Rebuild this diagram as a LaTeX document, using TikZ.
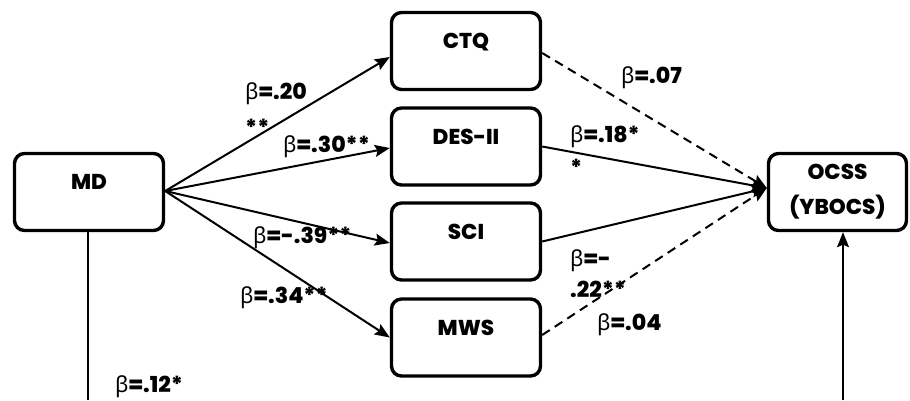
\documentclass[tikz,border=0pt]{standalone}
\usepackage{fontspec}
\setmainfont{Poppins}[BoldFont={* ExtraBold}]
\newfontfamily\grk{Noto Sans}
\usetikzlibrary{arrows.meta}
\newcommand{\bt}{{\grk\mdseries β}}
\begin{document}
\begin{tikzpicture}[x=1pt,y=-1pt,
  box/.style={draw,line width=3.4pt,rounded corners=10pt,minimum width=149pt,minimum height=77pt,inner sep=0pt,font=\fontsize{21.5}{35}\selectfont\bfseries},
  sbox/.style={box,text height=15pt,text depth=20pt},
  tip/.style={-{Stealth[length=15pt,width=12pt,inset=2.5pt]}},
  conn/.style={line width=2pt,tip},
  dsh/.style={conn,dash pattern=on 9pt off 6pt},
  lab/.style={anchor=base west,inner sep=0pt,font=\fontsize{22}{36}\selectfont\bfseries,align=left},
]
\useasboundingbox (0,0) rectangle (910,400);
\node[sbox] (md) at (89,192) {MD};
\node[sbox] (ctq) at (466,51) {CTQ};
\node[sbox] (des) at (466,146.5) {DES-II};
\node[sbox] (sci) at (466,241.5) {SCI};
\node[sbox] (mws) at (466,337.5) {MWS};
\node[box,minimum width=138pt,align=center] (ocss) at (837.5,192) {OCSS\\(YBOCS)};
\coordinate (mdend) at (88,400);
\coordinate (ocend) at (843,400);
% MD to mediators
\draw[conn] ([yshift=1pt]md.east) -- ([yshift=-6pt]ctq.west);
\draw[conn] ([yshift=1pt]md.east) -- ([yshift=-1.5pt]des.west);
\draw[conn] ([yshift=1pt]md.east) -- ([yshift=-1.5pt]sci.west);
\draw[conn] ([yshift=1pt]md.east) -- (mws.west);
% mediators to OCSS
\draw[dsh] ([yshift=-2pt]ctq.east) -- ([yshift=4pt]ocss.west);
\draw[conn] (des.east) -- ([yshift=4pt]ocss.west);
\draw[conn] (sci.east) -- ([yshift=4pt]ocss.west);
\draw[dsh] ([yshift=2.5pt]mws.east) -- ([yshift=4pt]ocss.west);
% direct path
\draw[line width=1.4pt] (md.south -| mdend) -- (mdend);
\draw[line width=1.4pt,tip] (ocend) -- (ocend |- ocss.south);
% labels
\node[lab] (l1) at (245,135) {\bt=.20\\**};
\node[lab] (l2) at (283,152) {\bt=.30**};
\node[lab] (l3) at (253,243) {\bt=-.39**};
\node[lab] (l4) at (240,303) {\bt=.34**};
\node[lab] (l5) at (115,392) {\bt=.12*};
\node[lab] (l6) at (621,83) {\bt=.07};
\node[lab,font=\fontsize{22}{33}\selectfont\bfseries] (l7) at (570,175) {\bt=.18*\\*};
\node[lab,font=\fontsize{22}{31}\selectfont\bfseries] (l8) at (570,297) {\bt=-\\.22**};
\node[lab] (l9) at (597,330) {\bt=.04};
\end{tikzpicture}
\end{document}
